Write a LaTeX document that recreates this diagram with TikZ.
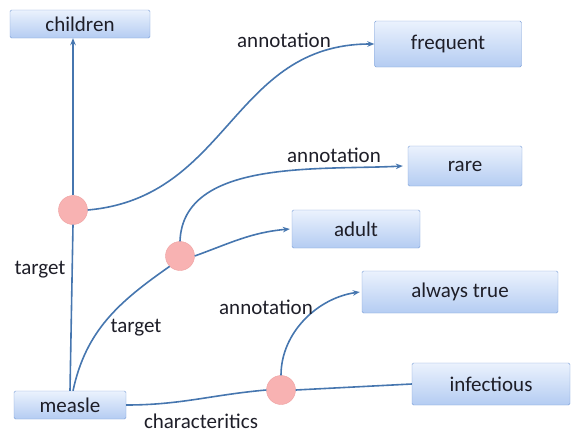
\documentclass[tikz,border=0pt]{standalone}
\usepackage{fontspec}
\setmainfont{Carlito}
\usetikzlibrary{arrows.meta}
\definecolor{boxline}{RGB}{125,160,215}
\definecolor{boxtop}{RGB}{235,242,253}
\definecolor{boxbot}{RGB}{180,204,242}
\definecolor{edgeblue}{RGB}{70,118,175}
\definecolor{dotfill}{RGB}{248,178,178}
\definecolor{dotline}{RGB}{238,160,160}
\definecolor{txt}{RGB}{30,30,40}
\begin{document}
\begin{tikzpicture}[x=1pt,y=-1pt,
        concept/.style={draw=boxline, rounded corners=1.5pt, top color=boxtop, bottom color=boxbot,
            font=\fontsize{21}{24}\selectfont, text=txt, inner sep=0pt},
        relnode/.style={circle, draw=dotline, fill=dotfill, minimum size=29pt, inner sep=0pt},
        link/.style={draw=edgeblue, line width=1.6pt},
        arrowlink/.style={link, -{Stealth[length=7pt,width=5.5pt]}},
        lbl/.style={font=\fontsize{21}{24}\selectfont, text=txt, inner sep=0pt}]
    \useasboundingbox (0,0) rectangle (576,434);
    % concepts
    \node[concept, minimum width=140pt, minimum height=28pt] (children) at (80,24) {children};
    \node[concept, minimum width=147pt, minimum height=46pt] (frequent) at (448,44) {frequent};
    \node[concept, minimum width=114pt, minimum height=40pt] (rare) at (465,166) {rare};
    \node[concept, minimum width=128pt, minimum height=38pt] (adult) at (356,229) {adult};
    \node[concept, minimum width=196pt, minimum height=42pt] (alwaystrue) at (460,292) {always true};
    \node[concept, minimum width=158pt, minimum height=42pt] (infectious) at (491,384) {infectious};
    \node[concept, minimum width=112pt, minimum height=28pt] (measle) at (70,405) {measle};
    % relations
    \node[relnode] (r1) at (73,210) {};
    \node[relnode] (r2) at (180,256) {};
    \node[relnode] (r3) at (281,390) {};
    % links
    \draw[arrowlink] (r1.north) -- (r1.north |- children.south);
    \draw[link] (measle.north) -- (r1.south);
    \node[lbl] (lbltarget) at (40,270) {target};
    \draw[arrowlink] (r1.east) to[out=5, in=180, looseness=1.1] (frequent.west);
    \node[lbl] (lblfreq) at (284,40) {annotation};
    \draw[link] ([xshift=3pt]measle.north) to[out=78, in=215] (r2.south west);
    \node[lbl] (lbltarget2) at (136,328) {target};
    \draw[arrowlink] (r2.north) to[out=88, in=183, looseness=0.9] ([xshift=-5pt]rare.west);
    \node[lbl] (lblrare) at (334,155) {annotation};
    \draw[arrowlink] (r2.east) to[out=20, in=185] ([xshift=-2pt]adult.west);
    \draw[link] (measle.east) to[out=0, in=185] (r3.west);
    \node[lbl] (lblchar) at (201,421) {characteritics};
    \draw[arrowlink] (r3.north) to[out=90, in=188, looseness=0.95] ([xshift=-2pt]alwaystrue.west);
    \node[lbl] (lblalways) at (266,307) {annotation};
    \draw[link] (r3.east) -- (infectious.west);
\end{tikzpicture}
\end{document}
